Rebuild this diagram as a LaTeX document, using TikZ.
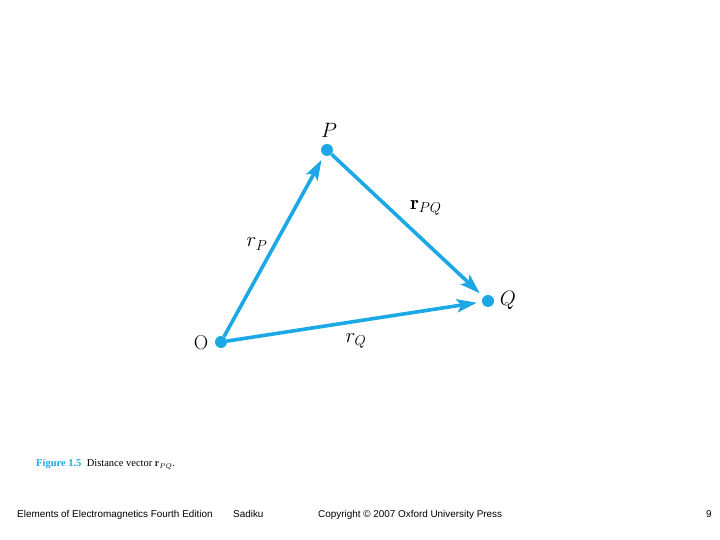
\documentclass[tikz,border=0pt]{standalone}
\usepackage{fontspec}
\setsansfont{Liberation Sans}
\newfontfamily\capfont{Liberation Serif}
\usetikzlibrary{arrows.meta, positioning}
\definecolor{vecblue}{RGB}{28,168,228}
\tikzstyle{vec} = [draw=vecblue, line width=3.6pt, -{Stealth[length=20pt, width=13pt, inset=4pt]}, shorten >=5pt]
\tikzstyle{point} = [circle, fill=vecblue, inner sep=0pt, minimum size=12pt]
\tikzstyle{ptlabel} = [font=\fontsize{20}{22}\selectfont, inner sep=0pt]
\tikzstyle{footer} = [font=\sffamily\fontsize{9.9}{11}\selectfont, inner sep=0pt, anchor=base west]

\begin{document}
\begin{tikzpicture}[x=1pt, y=1pt]
\useasboundingbox (0,0) rectangle (720,540);

% Points O, P and Q
\node (o) [point] at (221,198) {};
\node (p) [point] at (327,390) {};
\node (q) [point] at (488,239) {};
\node (olabel) [ptlabel] at (201,197) {O};
\node (plabel) [ptlabel] at (329,410) {$P$};
\node (qlabel) [ptlabel] at (508,240) {$Q$};

% Position and distance vectors
\draw [vec] (o) -- (p);
\draw [vec] (o) -- (q);
\draw [vec] (p) -- (q);
\node (rp) [ptlabel] at (257,296) {$r_P$};
\node (rq) [ptlabel] at (356,199) {$r_Q$};
\node (rpq) [ptlabel] at (426,332) {$\mathbf{r}_{PQ}$};

% Caption and footer
\node (caption) [anchor=base west, inner sep=0pt, font=\capfont\fontsize{10.5}{12}\selectfont] at (36,73) {\textcolor{vecblue}{\textbf{Figure 1.5}}\enspace Distance vector $\mathbf{r}_{PQ}$.};
\node (book) [footer] at (17,22) {Elements of Electromagnetics Fourth Edition};
\node (author) [footer] at (233,22) {Sadiku};
\node (copy) [footer] at (318,22) {Copyright © 2007 Oxford University Press};
\node (page) [footer] at (706,22) {9};
\end{tikzpicture}
\end{document}
